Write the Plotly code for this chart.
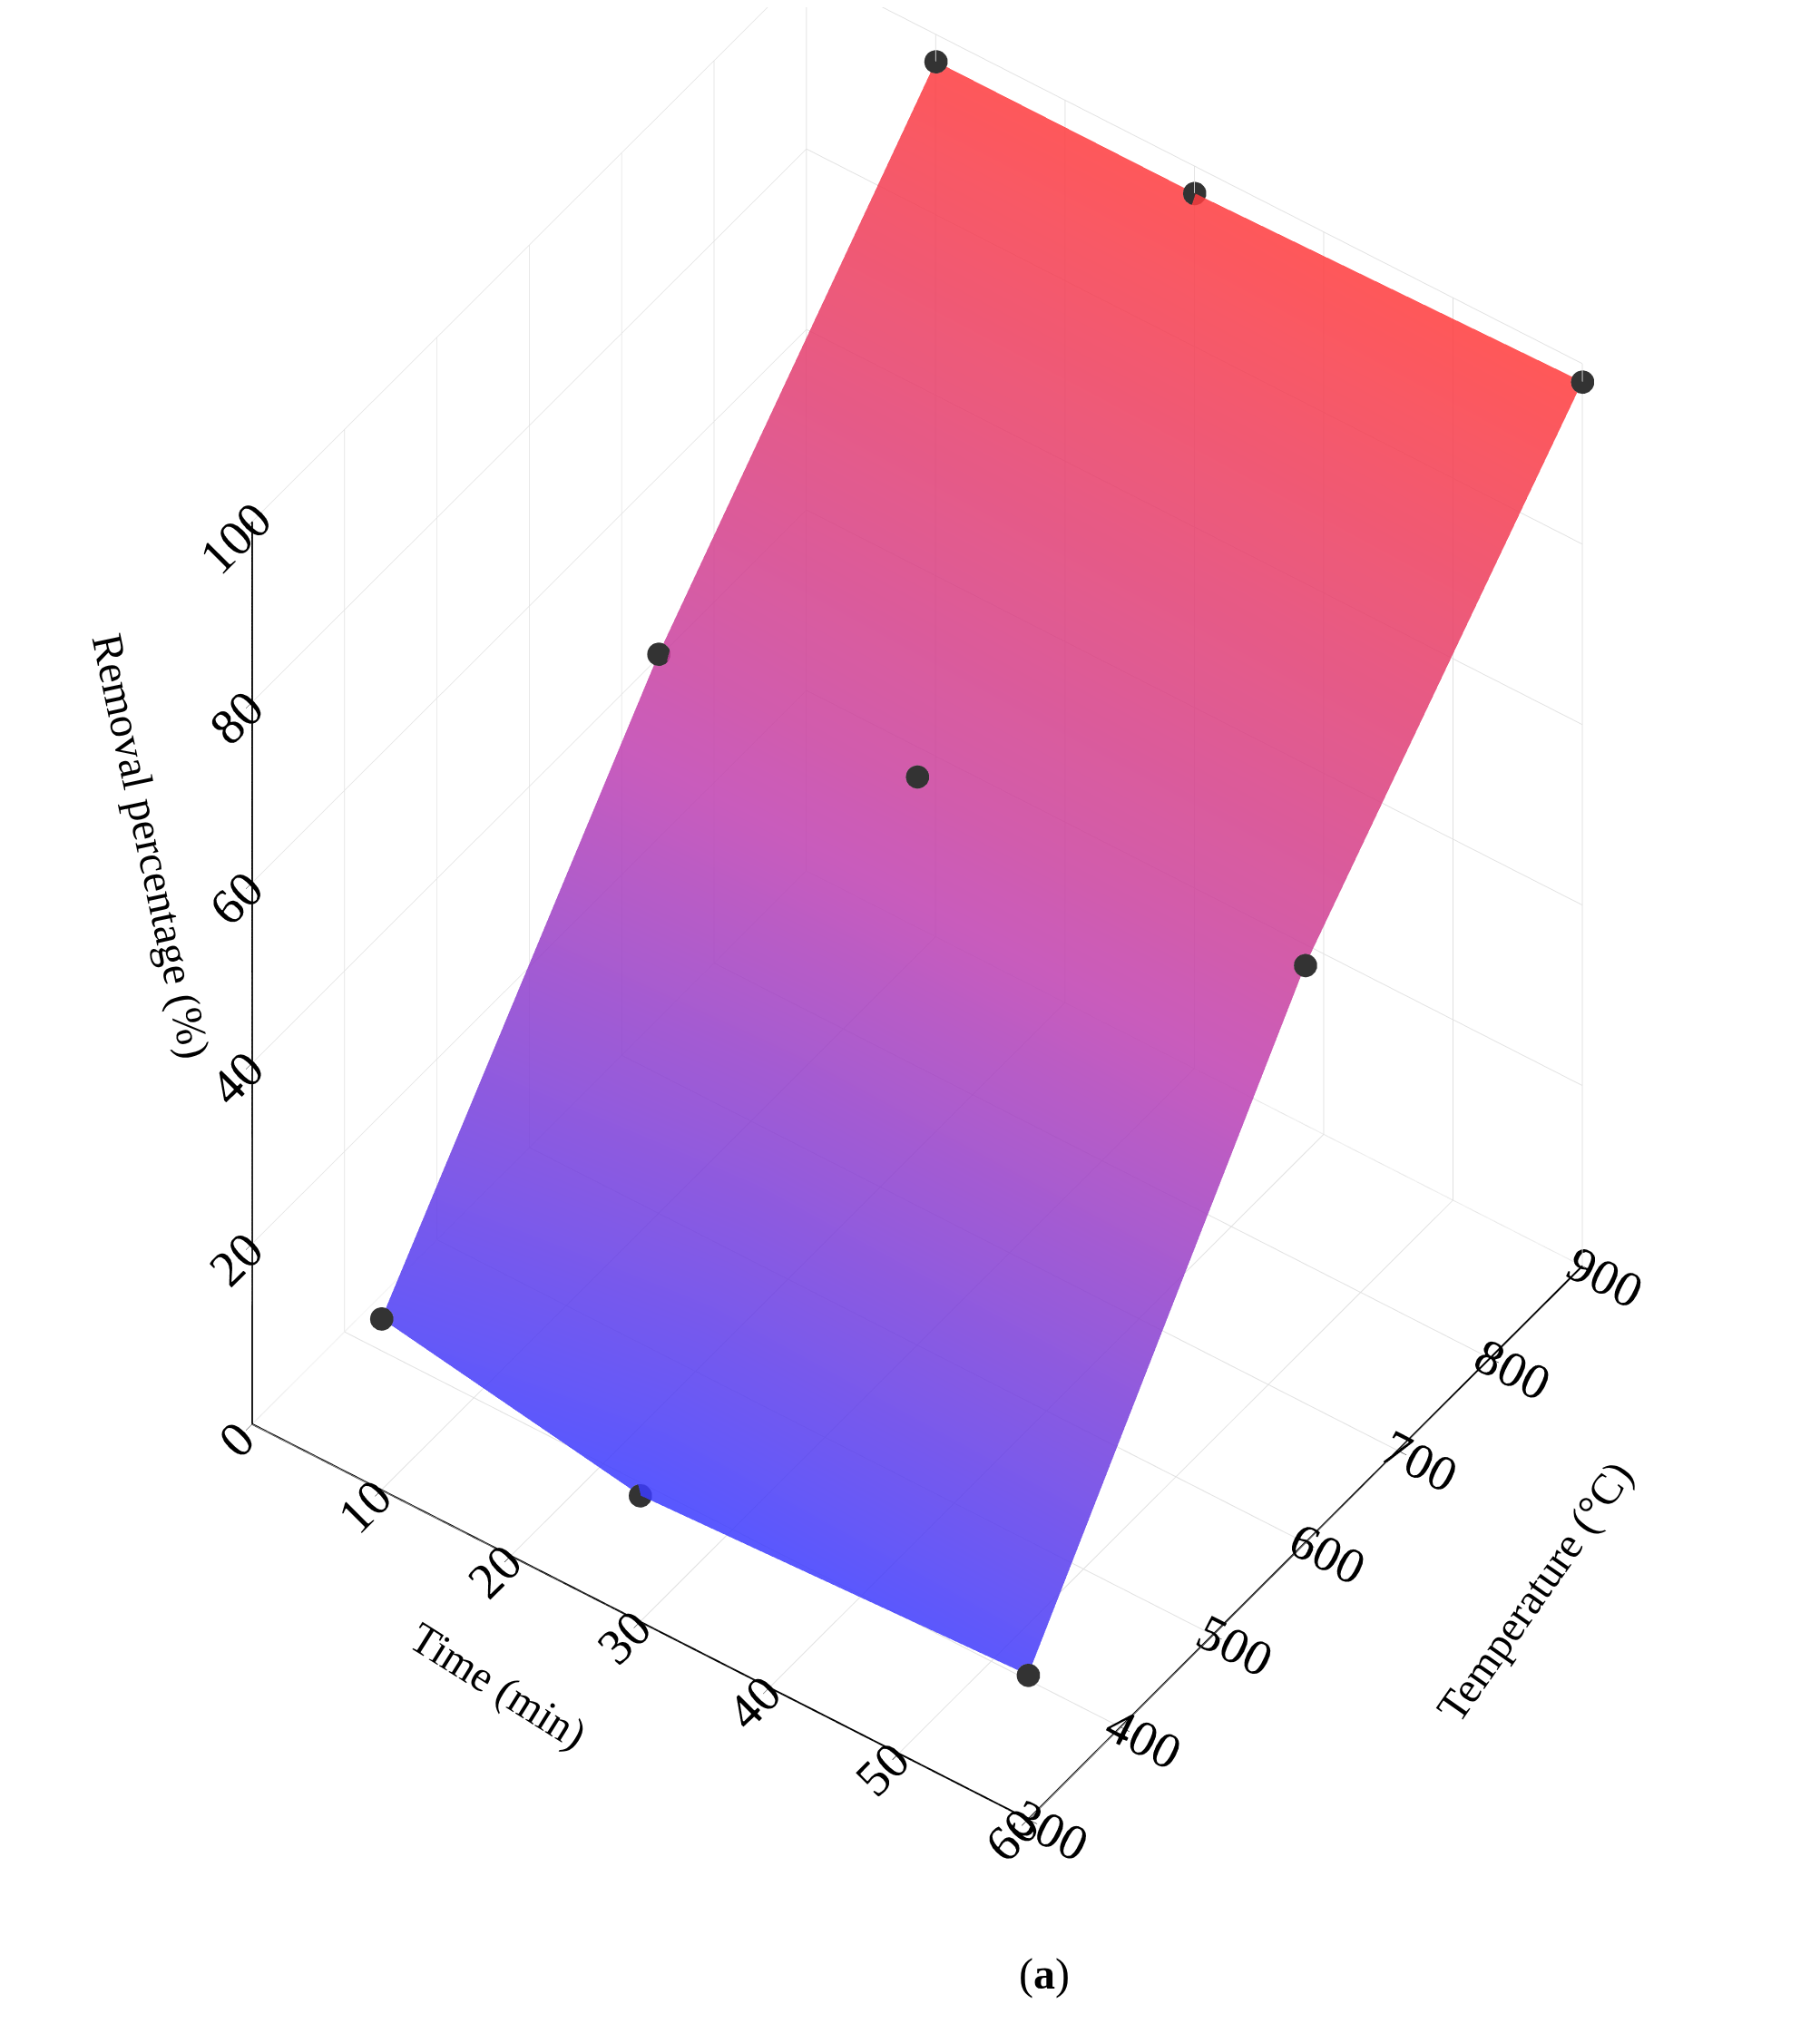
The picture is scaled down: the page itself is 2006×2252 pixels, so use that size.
import plotly.graph_objects as go

# data
time_min = [10, 30, 60]
temperature_c = [300, 600, 900]
removal = [  # rows = temperature, cols = time
    [19, 14, 16],
    [62, 63, 64],
    [97, 97, 98],
]

px, py, pz = [], [], []
for i, t in enumerate(temperature_c):
    for j, m in enumerate(time_min):
        px.append(m); py.append(t); pz.append(removal[i][j])

FONT = "serif"

fig = go.Figure()
fig.add_trace(go.Surface(
    x=time_min, y=temperature_c, z=removal,
    colorscale=[[0, "#3b3bff"], [0.5, "#c040b0"], [1, "#ff3b3b"]],
    opacity=0.85, showscale=False,
    lighting=dict(ambient=1.0, diffuse=0.1, specular=0, roughness=1),
))
fig.add_trace(go.Scatter3d(
    x=px, y=py, z=pz, mode="markers",
    marker=dict(size=15, color="#333333"), showlegend=False,
))

ax = dict(showbackground=False, gridcolor="#e0e0e0", linecolor="black",
          linewidth=4, ticks="outside", tickcolor="black", ticklen=12,
          tickfont=dict(family=FONT, size=26, color="black"),
          showspikes=False, title=dict(text=""))
fig.update_layout(
    width=2006, height=2252,
    paper_bgcolor="white",
    font=dict(family="Liberation Serif", color="black"),
    margin=dict(l=0, r=0, t=0, b=150),
    scene=dict(
        xaxis=dict(ax, range=[0, 60], dtick=10),
        yaxis=dict(ax, range=[300, 900], dtick=100),
        zaxis=dict(ax, range=[0, 100], dtick=20),
        aspectmode="manual", aspectratio=dict(x=1, y=1, z=1.35),
        camera=dict(eye=dict(x=1.0, y=-1.4, z=1.65),
                    center=dict(x=0, y=0, z=-0.1),
                    projection=dict(type="orthographic")),
    ),
    annotations=[
        dict(text="(<b>a</b>)", x=0.57, y=-0.045, xref="paper", yref="paper",
             showarrow=False, font=dict(size=48)),
        dict(text="Removal percentage (%)", x=0.04, y=0.56, xref="paper", yref="paper",
             showarrow=False, textangle=78, font=dict(size=48)),
        dict(text="Time (min)", x=0.215, y=0.08, xref="paper", yref="paper",
             showarrow=False, textangle=32, font=dict(size=48)),
        dict(text="Temperature (°C)", x=0.9, y=0.095, xref="paper", yref="paper",
             showarrow=False, textangle=-55, font=dict(size=48)),
    ],
)
fig.write_html("out.html")
